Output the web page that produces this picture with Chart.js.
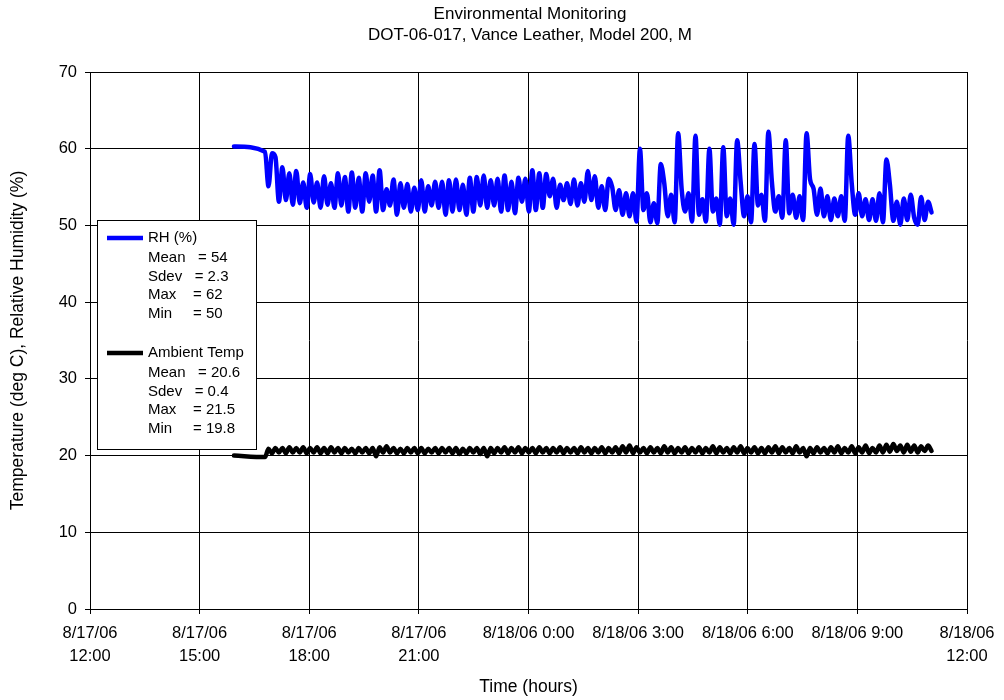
<!DOCTYPE html>
<html lang="en">
<head>
    <meta charset="UTF-8">
    <title>Environmental Monitoring</title>
    <style>
        body {
            background-color: #ffffff;
            margin: 0;
        }
        #wrap {
            width: 1004px;
            height: 700px;
        }
    </style>
</head>
<body>
    <div id="wrap">
        <canvas id="chart" width="1004" height="700"></canvas>
    </div>

    <script src="https://cdn.jsdelivr.net/npm/chart.js"></script>
    <script>
        // hours counted from 8/17/06 12:00
        const xTickLabels = [
            ['8/17/06', '12:00'], ['8/17/06', '15:00'], ['8/17/06', '18:00'], ['8/17/06', '21:00'],
            '8/18/06 0:00', '8/18/06 3:00', '8/18/06 6:00', '8/18/06 9:00', ['8/18/06', '12:00']
        ];
        const chartTitle = ['Environmental Monitoring', 'DOT-06-017, Vance Leather, Model 200, M'];

        // first reading, then the logger's regular readings
        const firstHour = 3.94;
        const firstRH = 60.3;
        const firstTemp = 20.0;
        const logStart = 4.79;
        const logStep = 0.095;

        const rhValues = [
            59.6, 55.1, 59.4, 58.9, 53.1, 57.6, 53.3, 56.8, 52.7, 57.1,
            52.9, 55.6, 52.3, 56.7, 53.0, 55.6, 52.3, 56.4, 52.7, 55.5,
            52.3, 56.8, 52.6, 56.3, 51.8, 56.9, 52.3, 56.2, 51.8, 56.8,
            53.1, 56.5, 51.8, 57.2, 52.0, 54.7, 52.6, 56.0, 51.4, 55.5,
            52.3, 55.4, 51.8, 54.9, 52.0, 55.9, 51.8, 55.1, 52.6, 55.7,
            52.3, 55.7, 51.4, 55.9, 51.8, 56.0, 52.0, 55.3, 51.4, 56.2,
            51.8, 56.3, 52.6, 56.5, 52.3, 55.9, 52.6, 56.1, 51.8, 56.5,
            52.0, 55.7, 51.6, 56.2, 53.1, 56.1, 51.8, 57.2, 52.0, 56.8,
            52.3, 56.7, 53.8, 56.1, 52.3, 55.3, 53.3, 55.5, 52.8, 56.0,
            52.6, 55.5, 53.1, 57.1, 53.3, 56.4, 52.3, 55.1, 52.0, 56.1,
            55.0, 52.0, 54.6, 51.4, 54.2, 51.2, 54.2, 50.5, 60.0, 52.0,
            54.2, 50.4, 52.9, 50.3, 58.0, 55.5, 51.2, 54.0, 50.4, 62.0,
            54.8, 51.8, 54.2, 50.5, 61.7, 51.4, 53.4, 50.5, 60.0, 51.8,
            53.5, 50.1, 60.2, 51.2, 53.5, 50.1, 61.1, 55.7, 51.2, 53.8,
            50.4, 60.6, 52.6, 54.0, 50.6, 62.2, 55.7, 51.8, 53.8, 51.0,
            61.1, 51.6, 54.0, 51.0, 53.8, 50.7, 62.0, 56.0, 54.8, 51.4,
            54.8, 51.2, 53.8, 50.7, 53.5, 51.2, 53.8, 50.6, 61.7, 55.5,
            51.4, 54.2, 51.2, 53.4, 50.7, 53.4, 50.6, 54.2, 50.4, 58.6,
            55.3, 50.6, 53.1, 50.1, 53.5, 50.7, 54.0, 51.0, 50.1, 53.7,
            50.7, 53.1, 51.7
        ];

        const tempValues = [
            19.8, 20.9, 20.3, 21.0, 20.4, 21.0, 20.3, 21.1, 20.4, 21.0,
            20.4, 21.1, 20.3, 21.0, 20.4, 21.1, 20.3, 21.0, 20.3, 21.1,
            20.4, 21.0, 20.3, 21.0, 20.4, 20.9, 20.3, 21.0, 20.4, 21.0,
            20.3, 21.0, 19.9, 21.1, 20.4, 21.2, 20.4, 21.0, 20.3, 20.9,
            20.3, 21.0, 20.4, 21.0, 20.3, 21.0, 20.3, 20.9, 20.4, 21.0,
            20.3, 21.0, 20.4, 21.0, 20.3, 21.0, 20.2, 20.9, 20.3, 21.0,
            20.4, 21.0, 20.2, 21.0, 19.9, 21.0, 20.3, 21.0, 20.4, 21.1,
            20.3, 21.0, 20.4, 21.1, 20.3, 21.0, 20.4, 21.0, 20.3, 21.1,
            20.4, 21.0, 20.3, 21.0, 20.4, 21.1, 20.3, 21.0, 20.4, 21.0,
            20.3, 21.1, 20.4, 21.0, 20.3, 21.0, 20.4, 21.1, 20.3, 21.0,
            20.4, 21.1, 20.3, 21.2, 20.4, 21.3, 20.3, 21.1, 20.4, 21.0,
            20.3, 21.1, 20.4, 21.0, 20.3, 21.2, 20.4, 21.1, 20.3, 21.0,
            20.4, 21.1, 20.3, 21.0, 20.4, 21.1, 20.3, 21.0, 20.4, 21.2,
            20.3, 21.1, 20.4, 21.0, 20.3, 21.1, 20.4, 21.2, 20.3, 21.0,
            20.4, 21.1, 20.3, 21.0, 20.3, 21.1, 20.4, 21.2, 20.3, 21.1,
            20.4, 21.0, 20.3, 21.2, 20.4, 21.0, 19.9, 21.0, 20.3, 21.1,
            20.4, 21.0, 20.3, 21.1, 20.4, 21.2, 20.3, 21.0, 20.4, 21.2,
            20.3, 21.1, 20.4, 21.3, 20.3, 21.0, 20.4, 21.3, 20.4, 21.4,
            20.5, 21.5, 20.6, 21.3, 20.4, 21.4, 20.5, 21.3, 20.4, 21.2,
            20.6, 21.3, 20.6
        ];

        const rhStats = ['Mean   = 54', 'Sdev   = 2.3', 'Max    = 62', 'Min     = 50'];
        const tempStats = ['Mean   = 20.6', 'Sdev   = 0.4', 'Max    = 21.5', 'Min     = 19.8'];

        const FONT = '"Liberation Sans", Arial, sans-serif';

        function toPoints(first, values) {
            const pts = [{ x: firstHour, y: first }];
            values.forEach((v, i) => pts.push({ x: logStart + i * logStep, y: v }));
            return pts;
        }

        // two line title, centred over the plot
        const titlePlugin = {
            id: 'excelTitle',
            afterDraw(chart) {
                const c = chart.ctx;
                c.save();
                c.font = '17px ' + FONT;
                c.fillStyle = '#000';
                c.textAlign = 'center';
                c.textBaseline = 'middle';
                c.fillText(chartTitle[0], 530, 14);
                c.fillText(chartTitle[1], 530, 35);
                c.restore();
            }
        };

        // the boxed legend with the summary numbers
        const statsBox = {
            id: 'statsBox',
            afterDatasetsDraw(chart) {
                const c = chart.ctx;
                c.save();
                c.fillStyle = '#fff';
                c.fillRect(97, 220, 160, 230);
                c.strokeStyle = '#000';
                c.lineWidth = 1;
                c.strokeRect(97.5, 220.5, 159, 229);

                const entries = [
                    { name: 'RH (%)', color: '#0000ff', stats: rhStats, y: 238 },
                    { name: 'Ambient Temp', color: '#000000', stats: tempStats, y: 353 }
                ];
                c.font = '15px ' + FONT;
                c.textBaseline = 'middle';
                entries.forEach(e => {
                    c.strokeStyle = e.color;
                    c.lineWidth = 4.5;
                    c.beginPath();
                    c.moveTo(107, e.y);
                    c.lineTo(143, e.y);
                    c.stroke();
                    c.fillStyle = '#000';
                    c.fillText(e.name, 148, e.y);
                    e.stats.forEach((s, k) => c.fillText(s, 148, e.y + 20 + k * 18.6));
                });
                c.restore();
            }
        };

        const ctx = document.getElementById('chart').getContext('2d');
        const chart = new Chart(ctx, {
            type: 'line',
            data: {
                datasets: [{
                    label: 'RH (%)',
                    data: toPoints(firstRH, rhValues),
                    borderColor: '#0000ff',
                    borderWidth: 4.5,
                    pointRadius: 0,
                    borderJoinStyle: 'round',
                    borderCapStyle: 'round',
                    cubicInterpolationMode: 'monotone'
                }, {
                    label: 'Ambient Temp',
                    data: toPoints(firstTemp, tempValues),
                    borderColor: '#000000',
                    borderWidth: 4.5,
                    pointRadius: 0,
                    borderJoinStyle: 'round',
                    borderCapStyle: 'round',
                    cubicInterpolationMode: 'monotone'
                }]
            },
            options: {
                responsive: false,
                animation: false,
                layout: { padding: { top: 72, right: 37, left: 0, bottom: 0 } },
                plugins: {
                    legend: { display: false },
                    tooltip: { enabled: false }
                },
                scales: {
                    x: {
                        type: 'linear',
                        min: 0,
                        max: 24,
                        afterFit: s => { s.height = 91; },
                        ticks: {
                            stepSize: 3,
                            autoSkip: false,
                            maxRotation: 0,
                            padding: 8,
                            color: '#000',
                            font: { family: FONT, size: 16.5, lineHeight: 1.4 },
                            callback: v => xTickLabels[Math.round(v / 3)]
                        },
                        grid: { color: '#000', tickLength: 5 },
                        border: { color: '#000' },
                        title: {
                            display: true,
                            text: 'Time (hours)',
                            color: '#000',
                            font: { family: FONT, size: 17.5, lineHeight: 1.2 },
                            padding: { top: 4, bottom: 2 }
                        }
                    },
                    y: {
                        min: 0,
                        max: 70,
                        afterFit: s => { s.width = 90; },
                        ticks: {
                            stepSize: 10,
                            padding: 8,
                            color: '#000',
                            font: { family: FONT, size: 16.5 }
                        },
                        grid: { color: '#000', tickLength: 5 },
                        border: { color: '#000' },
                        title: {
                            display: true,
                            text: 'Temperature (deg C), Relative Humidity (%)',
                            color: '#000',
                            font: { family: FONT, size: 17.5, lineHeight: 1.2 },
                            padding: { top: 8, bottom: 4 }
                        }
                    }
                }
            },
            plugins: [titlePlugin, statsBox]
        });
    </script>
</body>
</html>
